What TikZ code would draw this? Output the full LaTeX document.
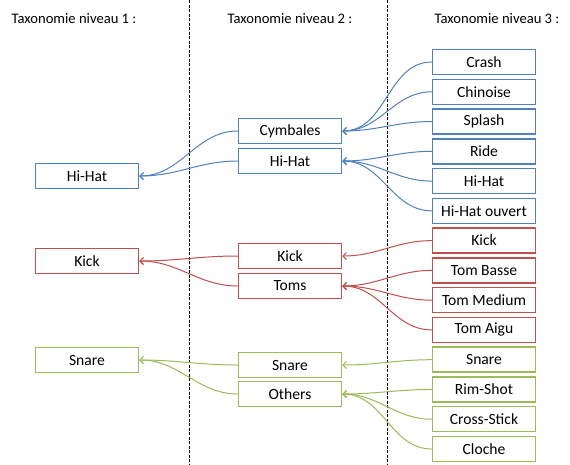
\documentclass[tikz,border=0pt]{standalone}
\usepackage{fontspec}
\setmainfont{Carlito}
\usepackage{tikz}
\usetikzlibrary{arrows.meta,positioning}
\definecolor{cblue}{RGB}{79,129,189}
\definecolor{cred}{RGB}{192,80,77}
\definecolor{cgreen}{RGB}{155,187,89}

\begin{document}
\begin{tikzpicture}[x=1pt, y=-1pt, ->, >={Straight Barb[length=3.5pt,width=7pt]},
    node distance=29.77pt, line width=1pt,
    every node/.style={font=\fontsize{15.6}{18}\selectfont, text=black},
    box/.style={draw, rectangle, line width=1.5pt, minimum width=103pt, minimum height=25pt, inner sep=0pt},
    bl/.style={box, draw=cblue},
    rd/.style={box, draw=cred},
    gr/.style={box, draw=cgreen},
    title/.style={font=\fontsize{14.6}{17}\selectfont}
    ]
\useasboundingbox (0,0) rectangle (570,464);
% titres
\node[title] (t1) at (74,19)  {Taxonomie niveau 1 :};
\node[title] (t2) at (290,19) {Taxonomie niveau 2 :};
\node[title] (t3) at (497,19) {Taxonomie niveau 3 :};
\draw[-, dash pattern=on 3pt off 1.5pt] (189,0) -- (189,464);
\draw[-, dash pattern=on 3pt off 1.5pt] (387,0) -- (387,464);
% niveau 3
\node[bl] (crash)    at (484,62)   {Crash};
\node[bl] (chinoise) [below of=crash]    {Chinoise};
\node[bl] (splash)   [below of=chinoise] {Splash};
\node[bl] (ride)     [below of=splash]   {Ride};
\node[bl] (hh3)      [below of=ride]     {Hi-Hat};
\node[bl] (hho)      [below of=hh3]      {Hi-Hat ouvert};
\node[rd] (kick3)    [below of=hho]      {Kick};
\node[rd] (tomb)     [below of=kick3]    {Tom Basse};
\node[rd] (tomm)     [below of=tomb]     {Tom Medium};
\node[rd] (toma)     [below of=tomm]     {Tom Aigu};
\node[gr] (snare3)   [below of=toma]     {Snare};
\node[gr] (rim)      [below of=snare3]   {Rim-Shot};
\node[gr] (cross)    [below of=rim]      {Cross-Stick};
\node[gr] (cloche)   [below of=cross]    {Cloche};
% niveau 2
\node[bl] (cymb)   at (290,131) {Cymbales};
\node[bl] (hh2)    at (290,161) {Hi-Hat};
\node[rd] (kick2)  at (290,256) {Kick};
\node[rd] (toms)   at (290,286) {Toms};
\node[gr] (snare2) at (290,365) {Snare};
\node[gr] (others) at (290,394) {Others};
% niveau 1
\node[bl] (hh1)    at (87,176) {Hi-Hat};
\node[rd] (kick1)  at (87,261) {Kick};
\node[gr] (snare1) at (87,360) {Snare};
\path[cblue]
(crash.west)    edge [out=180,in=0] (cymb.east)
(chinoise.west) edge [out=180,in=0] (cymb.east)
(splash.west)   edge [out=180,in=0] (cymb.east)
(ride.west)     edge [out=180,in=0] (hh2.east)
(hh3.west)      edge [out=180,in=0] (hh2.east)
(hho.west)      edge [out=180,in=0] (hh2.east)
(cymb.west)     edge [out=180,in=0] (hh1.east)
(hh2.west)      edge [out=180,in=0] (hh1.east)
;
\path[cred]
(kick3.west)    edge [out=180,in=0] (kick2.east)
(tomb.west)     edge [out=180,in=0] (toms.east)
(tomm.west)     edge [out=180,in=0] (toms.east)
(toma.west)     edge [out=180,in=0] (toms.east)
(kick2.west)    edge [out=180,in=0] (kick1.east)
(toms.west)     edge [out=180,in=0] (kick1.east)
;
\path[cgreen]
(snare3.west)   edge [out=180,in=0] (snare2.east)
(rim.west)      edge [out=180,in=0] (others.east)
(cross.west)    edge [out=180,in=0] (others.east)
(cloche.west)   edge [out=180,in=0] (others.east)
(snare2.west)   edge [out=180,in=0] (snare1.east)
(others.west)   edge [out=180,in=0] (snare1.east)
;
\end{tikzpicture}
\end{document}
